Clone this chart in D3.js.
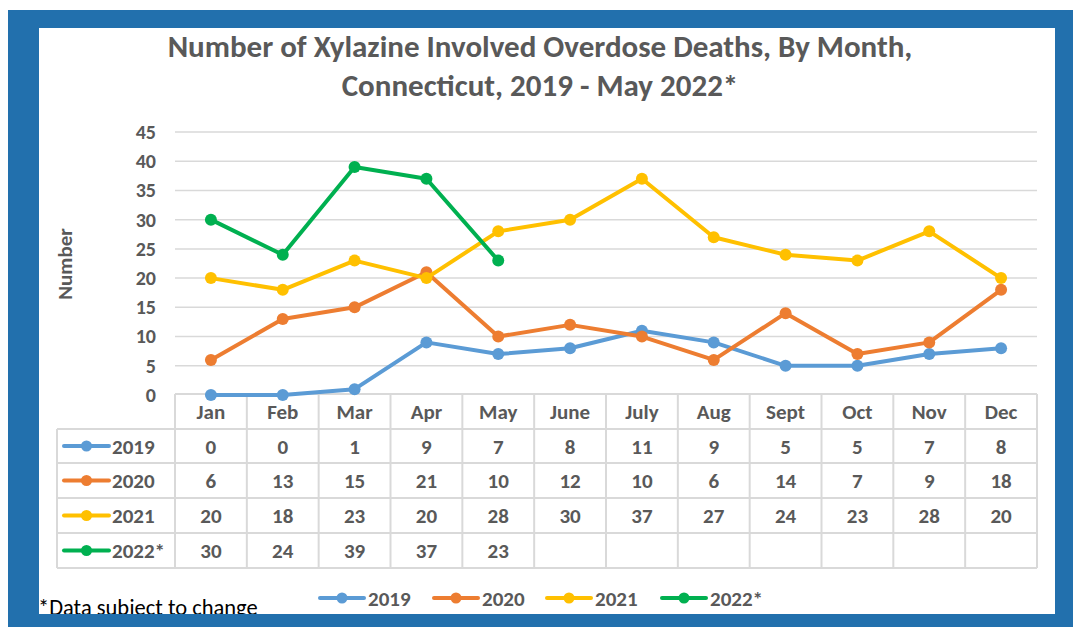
<!DOCTYPE html>
<html lang="en">
<head>
<meta charset="UTF-8">
<title>Xylazine Overdose Deaths</title>
<style>
  body { margin: 0; background: #fff; }
  text { font-family: Carlito, Lato, "Liberation Sans", sans-serif; }
</style>
</head>
<body>
<svg id="viz" width="1073" height="627"></svg>
<script src="https://d3js.org/d3.v7.min.js"></script>
<script>
const months = ["Jan","Feb","Mar","Apr","May","June","July","Aug","Sept","Oct","Nov","Dec"];
const yTicks = [0,5,10,15,20,25,30,35,40,45];
const seriesNames = ["2019","2020","2021","2022*"];
const colors = ["#5b9bd5","#ed7d31","#ffc000","#00b050"];
const v2019 = [0,0,1,9,7,8,11,9,5,5,7,8];
const v2020 = [6,13,15,21,10,12,10,6,14,7,9,18];
const v2021 = [20,18,23,20,28,30,37,27,24,23,28,20];
const v2022 = [30,24,39,37,23];
const allSeries = [v2019, v2020, v2021, v2022];

const svg = d3.select("#viz");
const textCol = "#595959";

// blue frame
svg.append("rect").attr("x", 8).attr("y", 10).attr("width", 1065).attr("height", 617).attr("fill", "#2270ad");
svg.append("rect").attr("x", 39).attr("y", 28).attr("width", 1016).attr("height", 586).attr("fill", "#fff");

const g = svg.append("g");

// title
g.append("text").attr("x", 540).attr("y", 57).attr("text-anchor", "middle")
  .attr("font-size", 31).attr("font-weight", "bold").attr("fill", textCol)
  .text("Number of Xylazine Involved Overdose Deaths, By Month,");
g.append("text").attr("x", 540).attr("y", 96).attr("text-anchor", "middle")
  .attr("font-size", 31).attr("font-weight", "bold").attr("fill", textCol)
  .text("Connecticut, 2019 - May 2022*");

const x = d3.scaleBand().domain(months).range([175, 1037]);
const y = d3.scaleLinear().domain([0, 45]).range([395, 132]);
const cx = m => x(m) + x.bandwidth() / 2;

// gridlines
g.selectAll(".grid").data(yTicks.filter(t => t > 0)).enter()
  .append("line").attr("class", "grid")
  .attr("x1", 175).attr("x2", 1037)
  .attr("y1", d => y(d)).attr("y2", d => y(d))
  .attr("stroke", "#d9d9d9").attr("stroke-width", 1.5);

// y axis labels
const yAxis = d3.axisLeft(y).tickValues(yTicks).tickSize(0).tickPadding(19);
const ya = g.append("g").attr("transform", "translate(175,0)").call(yAxis);
ya.select(".domain").remove();
ya.selectAll("text").attr("font-size", 20).attr("fill", textCol)
  .attr("font-family", "Carlito, Lato, sans-serif").attr("font-weight", 600);

g.append("text").attr("transform", "translate(72,264) rotate(-90)")
  .attr("text-anchor", "middle").attr("font-size", 21).attr("font-weight", "bold")
  .attr("fill", textCol).text("Number");

// table
const rowTop = [394, 429, 463, 498, 533, 568];
const gridCol = "#d9d9d9";
// horizontal lines
g.append("line").attr("x1", 175).attr("x2", 1037).attr("y1", rowTop[0]).attr("y2", rowTop[0])
  .attr("stroke", gridCol).attr("stroke-width", 2);
rowTop.slice(1).forEach(ry => {
  g.append("line").attr("x1", 57).attr("x2", 1037).attr("y1", ry).attr("y2", ry)
    .attr("stroke", gridCol).attr("stroke-width", 2);
});
// vertical lines
g.append("line").attr("x1", 57).attr("x2", 57).attr("y1", rowTop[1]).attr("y2", rowTop[5])
  .attr("stroke", gridCol).attr("stroke-width", 2);
months.forEach(m => {
  g.append("line").attr("x1", x(m)).attr("x2", x(m)).attr("y1", rowTop[0]).attr("y2", rowTop[5])
    .attr("stroke", gridCol).attr("stroke-width", 2);
});
g.append("line").attr("x1", 1037).attr("x2", 1037).attr("y1", rowTop[0]).attr("y2", rowTop[5])
  .attr("stroke", gridCol).attr("stroke-width", 2);

// month header
g.selectAll(".mlab").data(months).enter().append("text")
  .attr("x", d => cx(d)).attr("y", 419).attr("text-anchor", "middle")
  .attr("font-size", 21).attr("font-weight", 600).attr("fill", textCol).text(d => d);

// rows
allSeries.forEach((vals, i) => {
  const mid = (rowTop[i + 1] + rowTop[i + 2]) / 2;
  g.append("line").attr("x1", 64).attr("x2", 109).attr("y1", mid).attr("y2", mid)
    .attr("stroke", colors[i]).attr("stroke-width", 4).attr("stroke-linecap", "round");
  g.append("circle").attr("cx", 86.5).attr("cy", mid).attr("r", 5.5).attr("fill", colors[i]);
  g.append("text").attr("x", 112).attr("y", mid + 7.5).attr("font-size", 21).attr("font-weight", 600)
    .attr("fill", textCol).text(seriesNames[i]);
  g.selectAll(".v" + i).data(vals).enter().append("text")
    .attr("x", (d, j) => cx(months[j])).attr("y", mid + 7.5).attr("text-anchor", "middle")
    .attr("font-size", 21).attr("font-weight", 600).attr("fill", textCol).text(d => d);
});

// lines
const line = d3.line().x((d, j) => cx(months[j])).y(d => y(d));
allSeries.forEach((vals, i) => {
  g.append("path").datum(vals).attr("d", line).attr("fill", "none")
    .attr("stroke", colors[i]).attr("stroke-width", 4).attr("stroke-linejoin", "round");
  g.selectAll(".p" + i).data(vals).enter().append("circle")
    .attr("cx", (d, j) => cx(months[j])).attr("cy", d => y(d)).attr("r", 6).attr("fill", colors[i]);
});

// legend
const legX = [320, 434, 547, 662];
seriesNames.forEach((s, i) => {
  g.append("line").attr("x1", legX[i]).attr("x2", legX[i] + 44).attr("y1", 598).attr("y2", 598)
    .attr("stroke", colors[i]).attr("stroke-width", 4).attr("stroke-linecap", "round");
  g.append("circle").attr("cx", legX[i] + 22).attr("cy", 598).attr("r", 5.5).attr("fill", colors[i]);
  g.append("text").attr("x", legX[i] + 48).attr("y", 606).attr("font-size", 21).attr("font-weight", 600)
    .attr("fill", textCol).text(s);
});

// footnote (clipped by the frame)
g.append("text").attr("x", 38).attr("y", 615).attr("font-size", 22.5)
  .attr("fill", "#000").text("*Data subject to change");
svg.append("rect").attr("x", 8).attr("y", 614).attr("width", 1065).attr("height", 13).attr("fill", "#2270ad");
</script>
</body>
</html>
